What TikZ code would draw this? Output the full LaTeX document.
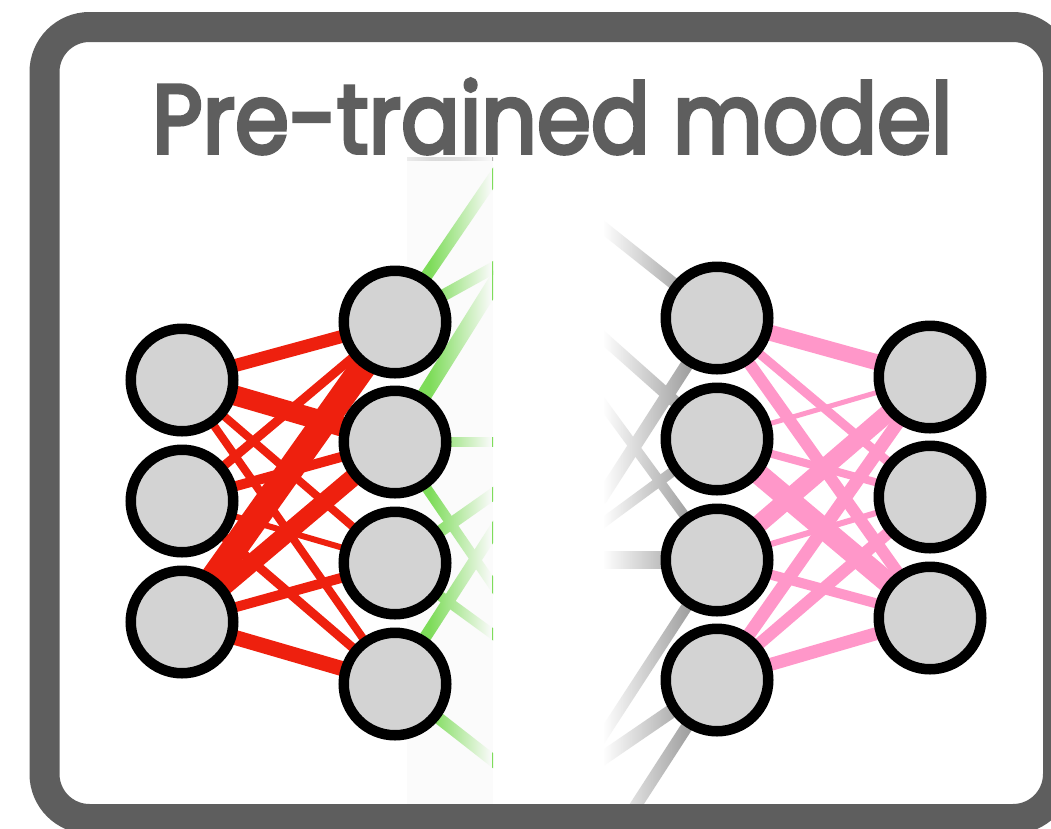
\documentclass[tikz,border=0pt]{standalone}
\usepackage{fontspec}
\usepackage{graphicx}
\usetikzlibrary{fadings}
\newfontfamily\titlefont{Poppins}[FakeBold=4]

\definecolor{framegray}{HTML}{5E5E5E}
\definecolor{nodefill}{HTML}{D3D3D3}
\definecolor{edgered}{HTML}{EE200E}
\definecolor{edgepink}{HTML}{FF97C9}
\definecolor{edgegreen}{HTML}{7EDC5A}
\definecolor{edgegray}{HTML}{969696}
\definecolor{panelgray}{HTML}{FBFBFB}

\pgfdeclarelayer{back}
\pgfdeclarelayer{edges}
\pgfdeclarelayer{front}
\pgfsetlayers{back,edges,main,front}

\tikzset{
  neuron/.style={circle, fill=nodefill, draw=black, line width=10.5pt,
                 minimum size=102.5pt, inner sep=0pt},
  redlink/.style={draw=edgered, line width=#1},
  pinklink/.style={draw=edgepink, line width=#1},
  greenlink/.style={draw=edgegreen, line width=#1},
  graylink/.style={draw=edgegray, line width=#1},
  border/.style={draw=framegray, line width=30pt, rounded corners=45pt},
}

\begin{document}
\begin{tikzpicture}[x=1pt,y=-1pt]
\useasboundingbox (0,0) rectangle (1051,828);

% ---- neurons ----
\node[neuron] (L1) at (182,380) {};
\node[neuron] (L2) at (182,501) {};
\node[neuron] (L3) at (182,622) {};

\node[neuron] (A1) at (395,322) {};
\node[neuron] (A2) at (395,442) {};
\node[neuron] (A3) at (395,563) {};
\node[neuron] (A4) at (395,684) {};

\node[neuron] (B1) at (717,318) {};
\node[neuron] (B2) at (717,439) {};
\node[neuron] (B3) at (717,560) {};
\node[neuron] (B4) at (717,680) {};

\node[neuron] (O1) at (930,377) {};
\node[neuron] (O2) at (930,497) {};
\node[neuron] (O3) at (930,618) {};

% loose ends of the links leaving / entering the hidden middle
\coordinate (ge1) at (560,80);
\coordinate (ge2) at (560,231);
\coordinate (ge3) at (560,178);
\coordinate (ge4) at (560,442);
\coordinate (ge5) at (560,683);
\coordinate (ge6) at (560,447);
\coordinate (ge7) at (560,683);
\coordinate (ge8) at (560,428);
\coordinate (ge9) at (560,813);

\coordinate (gs1) at (600,225);
\coordinate (gs2) at (600,335);
\coordinate (gs3) at (600,500);
\coordinate (gs4) at (600,400);
\coordinate (gs5) at (600,525);
\coordinate (gs6) at (600,560);
\coordinate (gs7) at (600,740);
\coordinate (gs8) at (600,760);
\coordinate (gs9) at (620,830);

\begin{pgfonlayer}{back}
  \fill[white] (0,0) rectangle (1051,828);
  % faded strip behind the first hidden layer
  \fill[panelgray] (407,158) rectangle (493,805);
  \shade[left color=black!8, right color=black!30] (407,157) rectangle (493,160);

  % green links fading out to the right
  \begin{scope}
    \clip (400,150) rectangle (493,810);
    \foreach \s/\t/\w in {A1/ge1/12, A1/ge2/12, A2/ge3/15, A2/ge4/10, A2/ge5/10,
                          A3/ge6/12, A3/ge7/10, A4/ge8/12, A4/ge9/12}
      \draw[greenlink=\w pt] (\s.center) -- (\t);
  \end{scope}
  \fill[panelgray, path fading=west] (430,150) rectangle (491.5,810);

  % gray links fading in from the left
  \begin{scope}
    \clip (604,150) rectangle (760,805);
    \foreach \s/\t/\w in {gs1/B1/12, gs2/B2/12, gs3/B1/13, gs4/B3/10, gs5/B2/10,
                          gs6/B3/18, gs7/B3/11, gs8/B4/14, gs9/B4/12}
      \draw[graylink=\w pt] (\s) -- (\t.center);
  \end{scope}
  \fill[white, path fading=east] (603,150) rectangle (698,805);
\end{pgfonlayer}

\begin{pgfonlayer}{edges}
  \foreach \s/\t/\w in {L1/A1/13, L1/A2/20, L1/A3/8,  L1/A4/8,
                        L2/A1/9,  L2/A2/10, L2/A3/6,  L2/A4/9,
                        L3/A1/26, L3/A2/18, L3/A3/10, L3/A4/15}
    \draw[redlink=\w pt] (\s.center) -- (\t.center);
  \foreach \s/\t/\w in {B1/O1/16, B1/O2/9,  B1/O3/12,
                        B2/O1/5,  B2/O2/8,  B2/O3/21,
                        B3/O1/18, B3/O2/6,  B3/O3/10,
                        B4/O1/13, B4/O2/12, B4/O3/13}
    \draw[pinklink=\w pt] (\s.center) -- (\t.center);
\end{pgfonlayer}

\begin{pgfonlayer}{front}
  \draw[border] (44.5,27) rectangle (1058,819);
  \node[anchor=base west, inner sep=0pt, text=framegray] (title) at (152,153)
    {\resizebox{800pt}{74pt}{\titlefont Pre-trained model}};
\end{pgfonlayer}
\end{tikzpicture}
\end{document}
